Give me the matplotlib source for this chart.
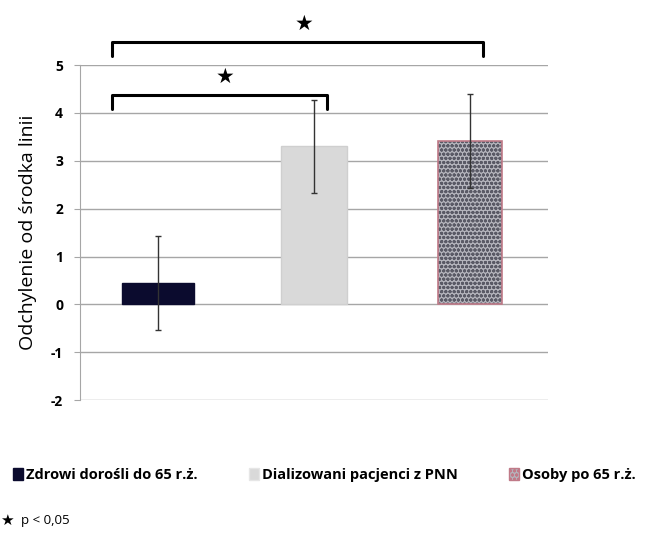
import matplotlib

matplotlib.use("Agg")
import matplotlib.pyplot as plt
from matplotlib.patches import Patch

groups = ["Zdrowi dorośli do 65 r.ż.", "Dializowani pacjenci z PNN", "Osoby po 65 r.ż."]
means = [0.45, 3.3, 3.42]
errors = [0.98, 0.97, 0.98]
y_ticks = [-2, -1, 0, 1, 2, 3, 4, 5]
# pairs of bars compared, with bracket height in data units
brackets = [(0, 1, 4.38), (0, 2, 5.49)]

plt.rcParams["font.family"] = ["Open Sans", "DejaVu Sans"]

fig = plt.figure(figsize=(6.49, 5.33), dpi=100)
ax = fig.add_axes([0.123, 0.249, 0.722, 0.629])

x = list(range(len(groups)))
ax.bar(x[0], means[0], width=0.46, color="#0b0b2e", edgecolor="#0b0b2e", zorder=3)
ax.bar(x[1], means[1], width=0.42, color="#d9d9d9", edgecolor="#cfcfcf", zorder=3)
ax.bar(x[2], means[2], width=0.41, color="#b4b4bc", edgecolor="#5a5a66", linewidth=0,
       hatch="oooo", zorder=3)
ax.bar(x[2], means[2], width=0.41, fill=False, edgecolor="#c07a88", linewidth=1.2, zorder=4)
ax.errorbar(x, means, yerr=errors, fmt="none", ecolor="#333333", elinewidth=1,
            capsize=2.5, zorder=5)

ax.set_xlim(-0.5, 2.5)
ax.set_ylim(-2, 5)
ax.set_yticks(y_ticks)
ax.set_yticklabels([str(t) for t in y_ticks], fontweight="bold", fontsize=10)
ax.set_xticks([])
ax.yaxis.grid(True, color="#a6a6a6", linewidth=1, zorder=0)
ax.set_axisbelow(True)
for side in ["top", "right", "bottom"]:
    ax.spines[side].set_visible(False)
ax.spines["left"].set_color("#a6a6a6")
ax.tick_params(axis="y", length=4, color="#a6a6a6", pad=8)
ax.set_ylabel("Odchylenie od środka linii", fontsize=14, labelpad=10)

for i, j, h in brackets:
    xs = [x[i] - 0.295, x[i] - 0.295, x[j] + 0.08, x[j] + 0.08]
    ys = [h - 0.3, h, h, h - 0.3]
    ax.plot(xs, ys, color="black", linewidth=2.2, clip_on=False, solid_capstyle="round")
    ax.text((xs[0] + xs[-1]) / 2 + 0.04, h + 0.37, "★", ha="center", va="center",
            fontsize=15, family="DejaVu Sans", clip_on=False)

handles = [
    Patch(facecolor="#0b0b2e", edgecolor="#0b0b2e"),
    Patch(facecolor="#d9d9d9", edgecolor="#e6e6e6"),
    Patch(facecolor="#b4b4bc", edgecolor="#c07a88", hatch="oooo"),
]
fig.legend(handles, groups, loc="center", bbox_to_anchor=(0.5, 0.108), ncol=3,
           frameon=False, handlelength=0.7, handleheight=0.9, handletextpad=0.2,
           columnspacing=3.5, prop={"weight": "bold", "size": 10.5})

fig.text(0.0, 0.024, "★", fontsize=11, family="DejaVu Sans", va="center")
fig.text(0.033, 0.024, "p < 0,05", fontsize=9.5, va="center")

fig.savefig("out.png", dpi=100)
